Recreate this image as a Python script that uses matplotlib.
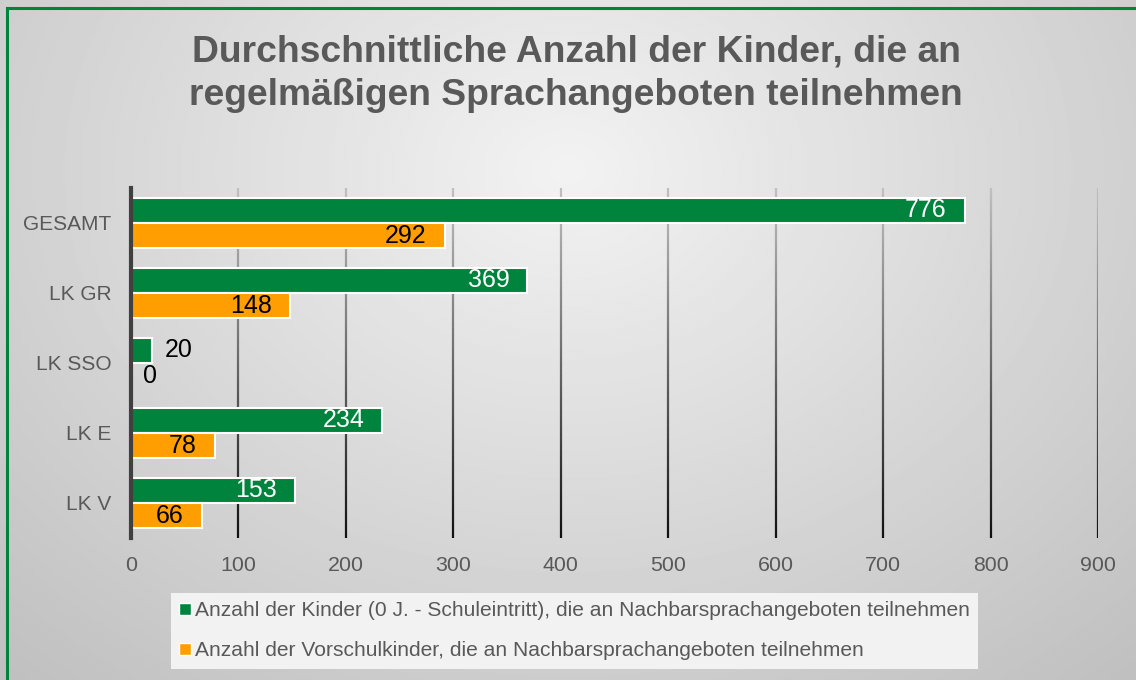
import numpy as np
import matplotlib
matplotlib.use("Agg")
import matplotlib.pyplot as plt
from matplotlib.collections import LineCollection
from matplotlib.lines import Line2D

plt.rcParams['font.family'] = ['Liberation Sans', 'DejaVu Sans']

# data
categories = ['GESAMT', 'LK GR', 'LK SSO', 'LK E', 'LK V']
kinder = [776, 369, 20, 234, 153]
vorschul = [292, 148, 0, 78, 66]
series_names = ['Anzahl der Kinder (0 J. - Schuleintritt), die an Nachbarsprachangeboten teilnehmen',
                'Anzahl der Vorschulkinder, die an Nachbarsprachangeboten teilnehmen']
xticks = [0, 100, 200, 300, 400, 500, 600, 700, 800, 900]

green = '#00843d'
orange = '#ff9e00'
textgray = '#595959'

fig = plt.figure(figsize=(11.36, 6.8), dpi=100)

# radial gradient background
bg = fig.add_axes([0, 0, 1, 1], zorder=-10)
yy, xx = np.mgrid[0:1:340j, 0:1:568j]
r = np.sqrt(((xx - 0.5) * 1.0) ** 2 + ((yy - 0.25) * 0.75) ** 2)
r = r / r.max()
shade = 0.95 - 0.2 * r
bg.imshow(shade, cmap='gray', vmin=0, vmax=1, extent=[0, 1, 0, 1],
          origin='upper', aspect='auto', interpolation='bilinear')
bg.set_xlim(0, 1)
bg.set_ylim(0, 1)
bg.axis('off')

# green frame (left and top)
fig.add_artist(Line2D([7 / 1136, 7 / 1136], [0, 1 - 8 / 680], color=green, lw=2.2,
                      transform=fig.transFigure))
fig.add_artist(Line2D([7 / 1136, 1], [1 - 8 / 680, 1 - 8 / 680], color=green, lw=2.2,
                      transform=fig.transFigure))

ax = fig.add_axes([131 / 1136, 1 - 538 / 680, 967 / 1136, 350 / 680])
ax.patch.set_alpha(0)

y = np.arange(len(categories))
h = 0.36
ax.barh(y - 0.18, kinder, height=h, color=green, edgecolor='white', linewidth=1.5, zorder=3)
ax.barh(y + 0.18, vorschul, height=h, color=orange, edgecolor='white', linewidth=1.5, zorder=3)

ax.set_xlim(0, 900)
ax.set_ylim(len(categories) - 0.5, -0.5)

# gridlines with vertical gradient
n = 60
for xt in xticks[1:]:
    ys = np.linspace(-0.5, len(categories) - 0.5, n + 1)
    segs = [[(xt, ys[i]), (xt, ys[i + 1])] for i in range(n)]
    t = np.linspace(0, 1, n)
    cols = [(0.75 - 0.68 * v, 0.75 - 0.68 * v, 0.75 - 0.68 * v) for v in t]
    ax.add_collection(LineCollection(segs, colors=cols, linewidths=1.6, zorder=1))

for s in ['top', 'right', 'bottom']:
    ax.spines[s].set_visible(False)
ax.spines['left'].set_color('#404040')
ax.spines['left'].set_linewidth(3)
ax.spines['left'].set_zorder(4)

ax.set_xticks(xticks)
ax.set_yticks(y)
ax.set_yticklabels(categories)
ax.tick_params(axis='x', length=0, labelsize=15.4, labelcolor=textgray, pad=13)
ax.tick_params(axis='y', length=0, labelsize=15, labelcolor=textgray, pad=14)

# value labels
for vals, off, col in [(kinder, -0.18, 'white'), (vorschul, 0.18, 'black')]:
    for yi, v in zip(y, vals):
        if v > 50:
            ax.annotate(str(v), (v, yi + off), xytext=(-13, 0), textcoords='offset points',
                        ha='right', va='center', fontsize=18, color=col, zorder=5)
        else:
            ax.annotate(str(v), (v, yi + off), xytext=(9, 0), textcoords='offset points',
                        ha='left', va='center', fontsize=18, color='black', zorder=5)

fig.text(0.507, 1 - 74 / 680,
         'Durchschnittliche Anzahl der Kinder, die an\nregelmäßigen Sprachangeboten teilnehmen',
         ha='center', va='center', fontsize=26.8, fontweight='bold', color=textgray,
         linespacing=1.3)

handles = [Line2D([], [], marker='s', linestyle='none', markersize=9, markerfacecolor=c,
                  markeredgecolor='white', markeredgewidth=1) for c in [green, orange]]
leg = fig.legend(handles, series_names, loc='upper left',
                 bbox_to_anchor=(171 / 1136, 1 - 593 / 680), frameon=True, fontsize=15.1,
                 handlelength=0.5, handletextpad=0.25, borderpad=0.4, labelspacing=1.0,
                 fancybox=False, borderaxespad=0)
leg.get_frame().set_facecolor('#f2f2f2')
leg.get_frame().set_edgecolor('none')
leg.get_frame().set_alpha(1)
for t in leg.get_texts():
    t.set_color(textgray)

fig.savefig('out.png', dpi=100)
